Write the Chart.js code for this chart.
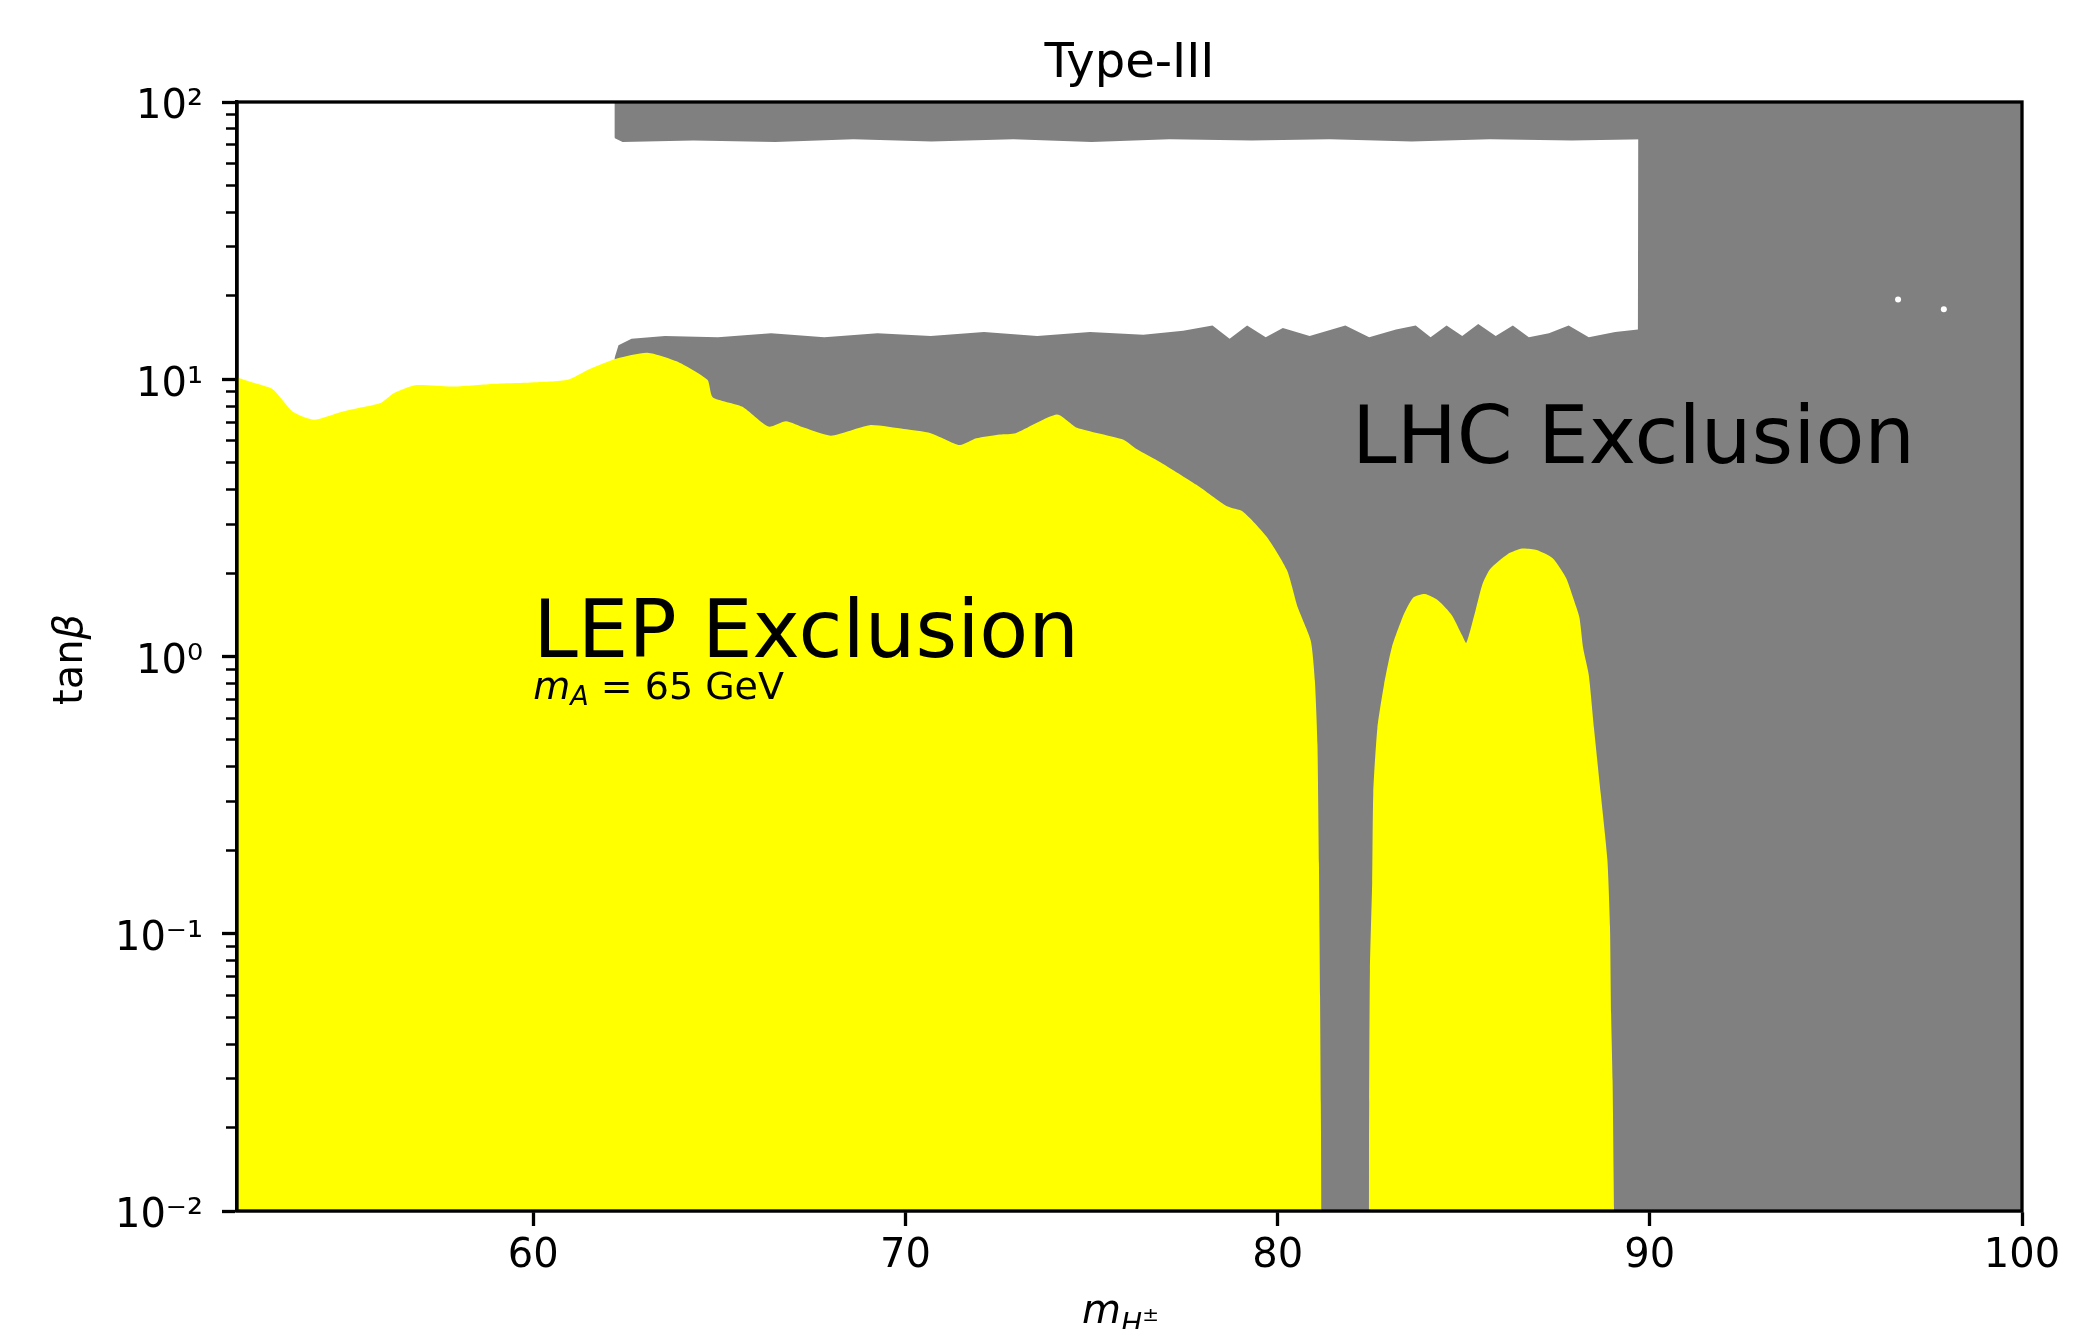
<!DOCTYPE html>
<html>
<head>
<meta charset="utf-8">
<title>Type-III</title>
<script src="https://cdn.jsdelivr.net/npm/chart.js"></script>
<style>
  body { margin: 0; background: #fff; }
  #wrap { width: 2084px; height: 1329px; }
</style>
</head>
<body>
<div id="wrap"><canvas id="myChart" width="2084" height="1329"></canvas></div>
<script>
// axis ticks
var xTicks = [60, 70, 80, 90, 100];
var yMajor = [0.01, 0.1, 1, 10, 100];
var yTickLabels = ['10⁻²', '10⁻¹', '10⁰', '10¹', '10²'];
var yMinorSteps = [2, 3, 4, 5, 6, 7, 8, 9];

// LEP exclusion, big block: upper edge then the right edge down to the axis
var lepMainX = [52.04, 52.46, 53.0, 53.54, 54.11, 54.86, 55.5, 55.93, 56.25, 56.82, 57.82, 58.89, 59.96, 60.93,
    61.5, 62.25, 63.07, 63.93, 64.68, 64.82, 65.61, 66.32, 66.79, 67.29, 68.0, 69.04, 69.96, 70.68, 71.46, 71.9,
    72.54, 72.96, 74.07, 74.61, 75.86, 76.21, 76.86, 77.82, 78.64, 79.07, 79.71, 80.25, 80.54, 80.89, 81.0,
    81.07, 81.11, 81.14, 81.16, 81.18];
var lepMainY = [10.17, 9.73, 9.20, 7.63, 7.14, 7.63, 7.97, 8.25, 8.90, 9.51, 9.41, 9.62, 9.73, 9.95,
    10.86, 11.87, 12.45, 11.48, 9.95, 8.62, 7.97, 6.75, 7.06, 6.68, 6.26, 6.83, 6.61, 6.39, 5.79, 6.12,
    6.32, 6.39, 7.46, 6.68, 6.05, 5.6, 5.01, 4.16, 3.48, 3.33, 2.70, 2.05, 1.505, 1.14, 0.82,
    0.483, 0.179, 0.0592, 0.0245, 0.01];

// LEP exclusion, island between 82.5 and 89 GeV
var lepIslandX = [82.45, 82.46, 82.48, 82.54, 82.57, 82.68, 82.86, 83.07, 83.39, 83.64, 83.96, 84.32, 84.68,
    84.96, 85.07, 85.29, 85.5, 85.71, 86.18, 86.57, 86.96, 87.39, 87.75, 88.0, 88.11, 88.21, 88.36, 88.5,
    88.68, 88.86, 88.93, 88.96, 89.0, 89.04];
var lepIslandY = [0.01, 0.0245, 0.0738, 0.153, 0.321, 0.551, 0.793, 1.08, 1.42, 1.63, 1.68, 1.59, 1.41,
    1.19, 1.12, 1.42, 1.82, 2.07, 2.34, 2.45, 2.42, 2.26, 1.92, 1.54, 1.38, 1.07, 0.857, 0.551,
    0.321, 0.185, 0.106, 0.0513, 0.0295, 0.01];

// LHC exclusion (gray), everything right of 62.2 GeV
var lhcTopX = [62.18, 100];
var lhcTopY = [100, 100];

// allowed window (white) under the top gray band
var allowedTopX = [61.9, 62.18, 62.4, 64.3, 66.5, 68.6, 70.7, 72.9, 75.0, 77.1, 79.3, 81.4, 83.6, 85.7, 87.9, 89.9];
var allowedTopY = [100, 74.2, 71.8, 72.6, 71.8, 73.4, 72.0, 73.4, 71.8, 73.4, 72.6, 73.4, 72.0, 73.4, 72.6, 73.4];

// gray again below the allowed window, and right of it
var lhcLowX = [62.18, 62.29, 62.64, 63.54, 64.96, 66.39, 67.82, 69.25, 70.68, 72.11, 73.54, 74.96, 76.39,
    77.46, 78.25, 78.71, 79.18, 79.68, 80.14, 80.86, 81.82, 82.46, 83.18, 83.71, 84.11, 84.54, 84.96, 85.39,
    85.86, 86.32, 86.75, 87.29, 87.82, 88.36, 89.07, 89.68, 89.69, 100];
var lhcLowY = [11.87, 13.25, 14.01, 14.32, 14.16, 14.64, 14.16, 14.64, 14.32, 14.80, 14.32, 14.80, 14.48,
    14.96, 15.64, 14.01, 15.64, 14.16, 15.30, 14.32, 15.64, 14.16, 15.13, 15.64, 14.16, 15.64, 14.32, 15.81,
    14.32, 15.64, 14.16, 14.64, 15.64, 14.16, 14.80, 15.13, 100, 100];

// a couple of stray allowed points inside the gray area
var specksX = [96.67, 97.9];
var specksY = [19.4, 17.9];

var FONT = "'DejaVu Sans', sans-serif";
var GRAY = '#808080';
var YELLOW = '#ffff00';

document.addEventListener("DOMContentLoaded", function() {

    function pts(xs, ys) {
        return xs.map(function(x, i) { return {x: x, y: ys[i]}; });
    }

    function region(xs, ys, color, tension) {
        return {
            data: pts(xs, ys),
            showLine: true,
            fill: 'start',
            backgroundColor: color,
            borderWidth: 0,
            pointRadius: 0,
            tension: tension || 0
        };
    }

    function isMajor(v) {
        return yMajor.indexOf(v) >= 0;
    }

    var yTicks = [];
    yMajor.forEach(function(m, i) {
        yTicks.push(m);
        if (i < yMajor.length - 1) {
            yMinorSteps.forEach(function(s) { yTicks.push(s * m); });
        }
    });

    // write a run of text pieces one after another: [text, font, dy]
    function drawParts(ctx, x, y, parts, center) {
        var w = 0;
        parts.forEach(function(p) { ctx.font = p[1]; w += ctx.measureText(p[0]).width; });
        var cx = center ? x - w / 2 : x;
        parts.forEach(function(p) {
            ctx.font = p[1];
            ctx.fillText(p[0], cx, y + (p[2] || 0));
            cx += ctx.measureText(p[0]).width;
        });
    }

    var textPlugin = {
        id: 'texts',
        afterDraw: function(chart) {
            var c = chart.ctx, a = chart.chartArea, x = chart.scales.x, y = chart.scales.y;
            c.save();
            // frame on top of the filled regions
            c.strokeStyle = '#000';
            c.lineWidth = 3.3;
            c.strokeRect(a.left, a.top, a.right - a.left, a.bottom - a.top);

            c.fillStyle = '#000';
            c.textAlign = 'left';
            c.textBaseline = 'alphabetic';

            c.font = '80px ' + FONT;
            c.fillText('LEP Exclusion', x.getPixelForValue(60), y.getPixelForValue(1));
            c.fillText('LHC Exclusion', x.getPixelForValue(82), y.getPixelForValue(5));

            drawParts(c, x.getPixelForValue(60), y.getPixelForValue(0.7), [
                ['m', 'italic 38px ' + FONT],
                ['A', 'italic 27px ' + FONT, 6],
                [' = 65 GeV', '38px ' + FONT]
            ], false);

            // title
            c.font = '48px ' + FONT;
            c.textAlign = 'center';
            c.fillText('Type-III', (a.left + a.right) / 2, 77);
            c.textAlign = 'left';

            // x label
            drawParts(c, (a.left + a.right) / 2 - 9, 1323, [
                ['m', 'italic 40px ' + FONT],
                ['H', 'italic 28px ' + FONT, 10],
                ['±', '20px ' + FONT, -2]
            ], true);

            // y label
            c.translate(82, (a.top + a.bottom) / 2 + 3);
            c.rotate(-Math.PI / 2);
            drawParts(c, 0, 0, [
                ['tan', '40px ' + FONT],
                ['β', 'italic 40px ' + FONT]
            ], true);
            c.restore();
        }
    };

    var specks = {
        data: pts(specksX, specksY),
        pointRadius: 3,
        pointBackgroundColor: '#fff',
        pointBorderWidth: 0
    };

    var ctx = document.getElementById('myChart');
    var myChart = new Chart(ctx, {
        type: 'scatter',
        data: {
            // first dataset is drawn on top
            datasets: [
                specks,
                region(lepIslandX, lepIslandY, YELLOW, 0.2),
                region(lepMainX, lepMainY, YELLOW, 0.2),
                region(lhcLowX, lhcLowY, GRAY),
                region(allowedTopX, allowedTopY, '#ffffff'),
                region(lhcTopX, lhcTopY, GRAY)
            ]
        },
        options: {
            responsive: false,
            devicePixelRatio: 1,
            animation: false,
            events: [],
            layout: { padding: { left: 0, top: 102, right: 62, bottom: 0 } },
            plugins: {
                legend: { display: false },
                tooltip: { enabled: false },
                title: { display: false }
            },
            scales: {
                x: {
                    type: 'linear',
                    min: 52.04,
                    max: 100,
                    afterBuildTicks: function(axis) {
                        axis.ticks = xTicks.map(function(v) { return {value: v}; });
                    },
                    afterFit: function(axis) { axis.height = 118; },
                    ticks: {
                        autoSkip: false,
                        maxRotation: 0,
                        padding: 7,
                        color: '#000',
                        font: { family: FONT, size: 40 },
                        callback: function(v) { return String(v); }
                    },
                    grid: {
                        drawOnChartArea: false,
                        tickLength: 15,
                        tickWidth: 3.3,
                        tickColor: '#000'
                    },
                    border: { color: '#000', width: 3.3 }
                },
                y: {
                    type: 'logarithmic',
                    min: 0.01,
                    max: 100,
                    afterBuildTicks: function(axis) {
                        axis.ticks = yTicks.map(function(v) { return {value: v}; });
                    },
                    afterFit: function(axis) { axis.width = 237; },
                    ticks: {
                        autoSkip: false,
                        padding: 19,
                        labelOffset: 6,
                        color: '#000',
                        font: { family: FONT, size: 40 },
                        callback: function(v) {
                            var i = yMajor.indexOf(v);
                            return i < 0 ? '' : yTickLabels[i];
                        }
                    },
                    grid: {
                        drawOnChartArea: false,
                        tickLength: 15,
                        tickColor: '#000',
                        tickWidth: function(c) {
                            return c.tick && !isMajor(c.tick.value) ? 2.5 : 3.3;
                        },
                        tickBorderDash: function(c) {
                            return c.tick && !isMajor(c.tick.value) ? [0, 4, 20, 40] : [];
                        }
                    },
                    border: { color: '#000', width: 3.3 }
                }
            }
        },
        plugins: [textPlugin]
    });

})
</script>
</body>
</html>
